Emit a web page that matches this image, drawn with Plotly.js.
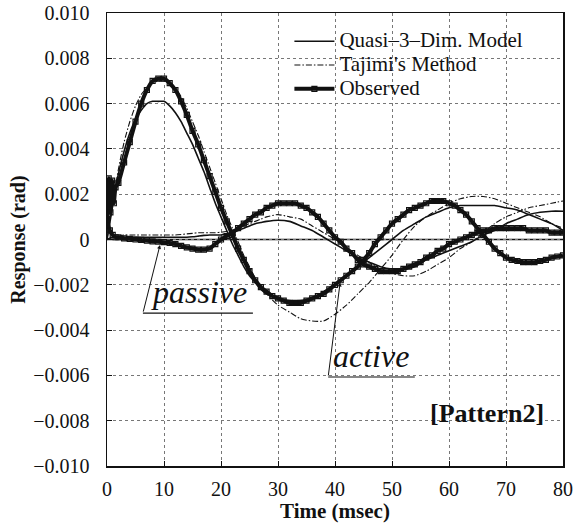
<!DOCTYPE html>
<html><head><meta charset="utf-8">
<script src="https://cdn.plot.ly/plotly-3.0.1.min.js"></script>
<style>html,body{margin:0;padding:0;background:#fff}#plot{width:573px;height:528px}</style>
</head><body><div id="plot"></div>
<script>
// ---- data ----
const timeObsActive = [0,0.3,0.6,0.9,1.2,1.5,2,3,4,5,6,7,8,9,10,11,12,13,14,15,16,17,18,19,20,21,22,23,24,25,26,27,28,29,30,31,32,33,34,35,36,37,38,39,40,41,42,43,44,45,46,47,48,49,50,51,52,53,54,55,56,57,58,59,60,61,62,63,64,65,66,67,68,69,70,71,72,73,74,75,76,77,78,79,80];
const obsActive = [0.0006,0.0027,0.0012,0.0026,0.0016,0.0023,0.0025,
 0.0034,0.0043,0.0052,0.0060,0.0066,0.0070,0.0071,0.0071,0.0069,0.0066,
 0.0061,0.0055,0.0048,0.0042,0.0035,0.0028,0.0021,0.0014,0.0008,0.0002,
 -0.0004,-0.0009,-0.0014,-0.0018,-0.0021,-0.0023,-0.0025,-0.0026,-0.0027,-0.0028,
 -0.0028,-0.0028,-0.0027,-0.0026,-0.0025,-0.0024,-0.0022,-0.0020,-0.0018,-0.0016,
 -0.0014,-0.0012,-0.0009,-0.0006,-0.0002,0.0001,0.0004,0.0007,0.0009,0.0011,
 0.0013,0.0014,0.0015,0.0016,0.0017,0.0017,0.0017,0.0016,0.0015,0.0013,
 0.0011,0.0008,0.0005,0.0002,-0.0001,-0.0004,-0.0006,-0.0008,-0.0009,-0.00095,
 -0.0010,-0.0010,-0.0010,-0.00095,-0.0009,-0.0008,-0.00075,-0.0007];

const timeObsPassive = [0,0.5,1,1.5,2,3,4,5,6,7,8,9,10,11,12,13,14,15,16,17,18,19,20,21,22,23,24,25,26,27,28,29,30,31,32,33,34,35,36,37,38,39,40,41,42,43,44,45,46,47,48,49,50,51,52,53,54,55,56,57,58,59,60,61,62,63,64,65,66,67,68,69,70,71,72,73,74,75,76,77,78,79,80];
const obsPassive = [0.0009,0.0004,0.0002,0.0001,
 0.0001,0.00005,0.00003,0.0,-0.00002,-0.00005,-0.00008,-0.0001,-0.00012,-0.00015,
 -0.0002,-0.00028,-0.00035,-0.0004,-0.00045,-0.00045,-0.0004,-0.0002,0.0000,0.00015,
 0.0003,0.0005,0.0007,0.0009,0.0011,0.0012,0.0014,0.0015,0.0016,0.0016,
 0.0016,0.0016,0.0015,0.0014,0.0012,0.0010,0.0007,0.0004,0.0001,-0.0001,
 -0.0004,-0.0006,-0.0009,-0.0011,-0.0012,-0.0013,-0.0014,-0.0014,-0.0014,-0.0014,
 -0.0013,-0.0012,-0.0011,-0.0010,-0.0008,-0.0007,-0.0005,-0.0004,-0.0002,-0.0001,
 0.0000,0.0001,0.0002,0.0003,0.0004,0.0004,0.0005,0.0005,0.0005,0.0005,
 0.0005,0.0005,0.0004,0.0004,0.0004,0.0004,0.0003,0.0003,0.0003];

const timeModel = [0,1,2,3,4,5,6,7,8,9,10,11,12,13,14,15,16,17,18,19,20,21,22,23,24,25,26,27,28,30,32,34,36,38,40,42,44,46,48,50,52,54,56,58,60,62,64,66,68,70,72,74,76,78,80];
const quasiActive = [0,0.0015,0.0029,0.0039,0.0047,0.0053,0.0057,0.0060,0.0061,0.0061,
 0.0061,0.0059,0.0056,0.0052,0.0047,0.0042,0.0036,0.0030,0.0023,0.0016,
 0.0010,0.0004,-0.0002,-0.0007,-0.0012,-0.0016,-0.0019,-0.0022,-0.0024,
 -0.0026,-0.0027,-0.0027,-0.0026,-0.0023,-0.0020,-0.0016,-0.0012,-0.0008,-0.0004,
 0.0000,0.0004,0.0007,0.0010,0.0012,0.0014,0.0015,0.0015,0.0015,0.0015,
 0.0014,0.0013,0.0011,0.0009,0.0007,0.0004];
const tajimiActive = [0,0.0016,0.0031,0.0043,0.0052,0.0059,0.0064,0.0067,0.0069,0.0070,
 0.0070,0.0069,0.0067,0.0063,0.0058,0.0052,0.0046,0.0039,0.0032,0.0025,
 0.0018,0.0011,0.0005,-0.0001,-0.0007,-0.0012,-0.0017,-0.0021,-0.0024,
 -0.0029,-0.0032,-0.0035,-0.0036,-0.0036,-0.0033,-0.0029,-0.0024,-0.0019,-0.0013,
 -0.0007,0.0000,0.0006,0.0010,0.0013,0.0016,0.0018,0.0019,0.0019,0.0018,
 0.0016,0.0014,0.0012,0.0010,0.0007,0.0005];
const quasiPassive = [0,0.0001,0.0001,0.0001,0.0001,0.0001,0.0001,0.0001,0.0001,0.0001,
 0.0001,0.0001,0.0001,0.0001,0.0001,0.00012,0.00015,0.00018,0.0002,0.0002,
 0.0002,0.00025,0.0003,0.0004,0.0005,0.0006,0.0007,0.00075,0.0008,
 0.00085,0.0008,0.0006,0.0004,0.0001,-0.0002,-0.0005,-0.0008,-0.0010,-0.0012,
 -0.0013,-0.0013,-0.0012,-0.0009,-0.0007,-0.0005,-0.0003,-0.0001,0.0002,0.0004,
 0.0007,0.0009,0.0011,0.0012,0.00125,0.00125];
const tajimiPassive = [0,0.0001,0.00015,0.0002,0.0002,0.0002,0.0002,0.0002,0.0002,0.0002,
 0.0002,0.0002,0.0002,0.00022,0.00025,0.00027,0.0003,0.0003,0.0003,0.0003,
 0.00032,0.00035,0.0004,0.0005,0.0006,0.0007,0.0008,0.0009,0.0010,
 0.0011,0.0010,0.0009,0.0006,0.0003,0.0000,-0.0004,-0.0007,-0.0010,-0.0013,
 -0.0015,-0.0016,-0.0016,-0.0014,-0.0011,-0.0008,-0.0004,-0.0001,0.0003,0.0007,
 0.0010,0.0012,0.0014,0.0015,0.0016,0.0017];

const seriesNames = ["Quasi\u20133\u2013Dim. Model", "Tajimi's Method", "Observed"];
const yTickVals = [0.010,0.008,0.006,0.004,0.002,0,-0.002,-0.004,-0.006,-0.008,-0.010];
const yTickText = ["0.010","0.008","0.006","0.004","0.002","0","\u22120.002","\u22120.004","\u22120.006","\u22120.008","\u22120.010"];
const xTickVals = [0,10,20,30,40,50,60,70,80];

// ---- chart ----
const FONT = '"Liberation Serif","Times New Roman",Times,serif';
const legName = s => '<span style="font-size:21px">' + s + '</span>';
const modelLine = {color:'#111', width:1.6, shape:'spline', smoothing:0.6};
const tajLine = {color:'#111', width:1.1, dash:'6px,2px,1.5px,2px', shape:'spline', smoothing:0.6};
const obsLine = {color:'#111', width:4, shape:'spline', smoothing:0.5};
const obsMarker = {symbol:'square-open', size:5, color:'#111', line:{width:1.2,color:'#111'}};

const traces = [
 {x:timeModel, y:quasiActive, mode:'lines', line:modelLine, name:legName(seriesNames[0]), legendgroup:'q'},
 {x:timeModel, y:quasiPassive, mode:'lines', line:modelLine, name:legName(seriesNames[0]), legendgroup:'q', showlegend:false},
 {x:timeModel, y:tajimiActive, mode:'lines', line:tajLine, name:legName(seriesNames[1]), legendgroup:'t'},
 {x:timeModel, y:tajimiPassive, mode:'lines', line:tajLine, name:legName(seriesNames[1]), legendgroup:'t', showlegend:false},
 {x:timeObsActive, y:obsActive, mode:'lines+markers', line:obsLine, marker:obsMarker, name:legName(seriesNames[2]), legendgroup:'o'},
 {x:timeObsPassive, y:obsPassive, mode:'lines+markers', line:obsLine, marker:obsMarker, name:legName(seriesNames[2]), legendgroup:'o', showlegend:false}
];

const ax = {showline:true, linecolor:'#111', linewidth:1.5, mirror:true, ticks:'inside', ticklen:5, tickcolor:'#111',
  showgrid:true, gridcolor:'#777', griddash:'dot', gridwidth:1, zeroline:false,
  tickfont:{family:FONT, size:20, color:'#111'}};

const layout = {
  width:573, height:528,
  margin:{l:107, r:10, t:13, b:62},
  paper_bgcolor:'#fff', plot_bgcolor:'#fff',
  font:{family:FONT, color:'#111'},
  showlegend:true,
  legend:{x:0.40, y:0.975, xanchor:'left', yanchor:'top', bgcolor:'rgba(0,0,0,0)', font:{family:FONT, size:16, color:'#111'}, tracegroupgap:0, itemwidth:40},
  xaxis:Object.assign({}, ax, {range:[0,80], tickvals:xTickVals, ticklabelstandoff:4, title:{text:'<b>Time (msec)</b>', font:{family:FONT, size:21}, standoff:2}}),
  yaxis:Object.assign({}, ax, {range:[-0.010,0.010], tickvals:yTickVals, ticktext:yTickText, ticklabelstandoff:12, title:{text:'<b>Response (rad)</b>', font:{family:FONT, size:20}, standoff:2}}),
  shapes:[
    {type:'line', xref:'x', yref:'y', x0:0, x1:80, y0:0, y1:0, line:{color:'#111', width:1.6}, layer:'below'},
    {type:'line', xref:'x', yref:'y', x0:6.3, x1:25.6, y0:-0.00325, y1:-0.00325, line:{color:'#111', width:1.2}},
    {type:'line', xref:'x', yref:'y', x0:38.8, x1:54, y0:-0.00607, y1:-0.00607, line:{color:'#111', width:1.2}}
  ],
  annotations:[
    {x:9.3, y:-0.00024, ax:6.3, ay:-0.00325, axref:'x', ayref:'y', xref:'x', yref:'y', text:'', showarrow:true, arrowhead:2, arrowsize:0.8, arrowwidth:1, arrowcolor:'#111'},
    {x:40.9, y:-0.0019, ax:38.8, ay:-0.00607, axref:'x', ayref:'y', xref:'x', yref:'y', text:'', showarrow:true, arrowhead:2, arrowsize:0.8, arrowwidth:1, arrowcolor:'#111'},
    {x:16.1, y:-0.00322, xref:'x', yref:'y', text:'<i>passive</i>', showarrow:false, yanchor:'bottom', font:{family:FONT, size:32, color:'#111'}},
    {x:46.4, y:-0.00604, xref:'x', yref:'y', text:'<i>active</i>', showarrow:false, yanchor:'bottom', font:{family:FONT, size:32, color:'#111'}},
    {x:66.6, y:-0.0077, xref:'x', yref:'y', text:'<b>[Pattern2]</b>', showarrow:false, font:{family:FONT, size:26, color:'#111'}}
  ]
};
Plotly.newPlot('plot', traces, layout, {staticPlot:true, displayModeBar:false});
</script></body></html>
